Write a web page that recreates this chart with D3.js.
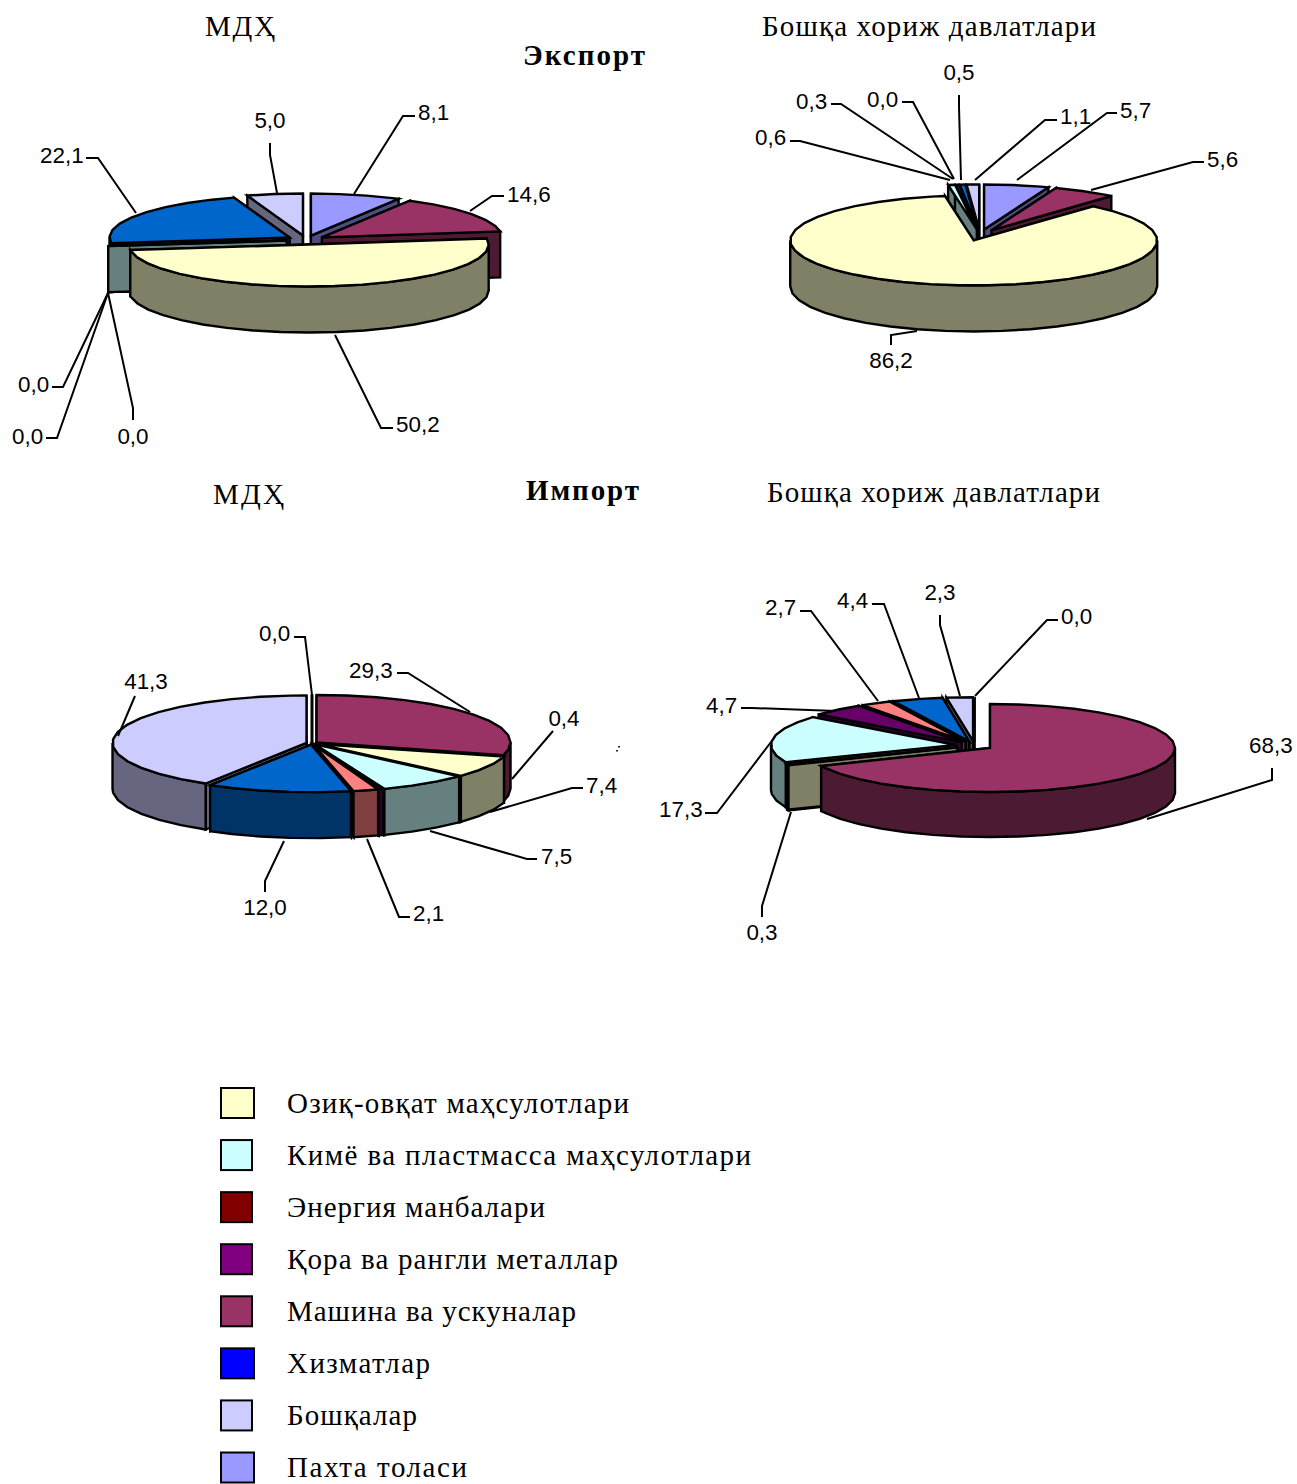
<!DOCTYPE html>
<html>
<head>
<meta charset="utf-8">
<script src="https://d3js.org/d3.v7.min.js"></script>
<style>
  body { margin: 0; background: #fff; }
  .lbl { font-family: "Liberation Sans", Arial, sans-serif; font-size: 22.4px; fill: #000; }
  .ttl { font-family: "Liberation Serif", "Times New Roman", serif; font-size: 29px; fill: #000; }
  .ttlb { font-family: "Liberation Serif", "Times New Roman", serif; font-size: 29px; font-weight: bold; fill: #000; }
  .leg { font-family: "Liberation Serif", "Times New Roman", serif; font-size: 29px; fill: #000; }
</style>
</head>
<body>
<div id="chart"></div>
<script>
// values, same slice order in the four pies
const exportCis = [8.1, 14.6, 50.2, 0.0, 0.0, 0.0, 22.1, 5.0];
const exportOther = [5.7, 5.6, 86.2, 0.6, 0.3, 0.0, 0.5, 1.1];
const importCis = [0.0, 29.3, 7.4, 7.5, 0.4, 2.1, 12.0, 41.3];
const importOther = [0.0, 68.3, 0.3, 17.3, 4.7, 2.7, 4.4, 2.3];

const sliceColors = ["#9999FF", "#993366", "#FFFFCC", "#CCFFFF", "#660066", "#FF8080", "#0066CC", "#CCCCFF"];

const legendNames = ["Озиқ-овқат маҳсулотлари", "Кимё ва пластмасса маҳсулотлари", "Энергия манбалари",
  "Қора ва рангли металлар", "Машина ва ускуналар", "Хизматлар", "Бошқалар", "Пахта толаси"];
const legendColors = ["#FFFFCC", "#CCFFFF", "#800000", "#800080", "#993366", "#0000FF", "#CCCCFF", "#9999FF"];
const legendWidths = [342, 464, 258, 331, 289, 143, 130, 180];

// text, x, baseline, class, width
const titles = [
  ["МДҲ", 205, 36, "ttl", 70],
  ["Бошқа хориж давлатлари", 762, 36, "ttl", 334],
  ["Экспорт", 523, 65, "ttlb", 122],
  ["МДҲ", 213, 504, "ttl", 71],
  ["Импорт", 526, 500, "ttlb", 113],
  ["Бошқа хориж давлатлари", 767, 502, "ttl", 333]
];

// pie geometry: centre, radii, wall height, explosion in px
const pieLayouts = [
  { values: exportCis, cx: 306, cy: 240, rx: 180, ry: 42, depth: 46, e: 19.5 },
  { values: exportOther, cx: 980, cy: 235, rx: 183.5, ry: 45, depth: 46, e: 23 },
  { values: importCis, cx: 312, cy: 743.3, rx: 194, ry: 47.5, depth: 46, e: 5.7, clip: 617 },
  { values: importOther, cx: 974.4, cy: 745.6, rx: 185, ry: 44, depth: 45, e: 18.6 }
];

// label placement per slice: x, y centre, anchor, leader points
const exportCisLeaders = [
  [418, 113, "start", [[415, 116], [403, 116], [354, 194]]],
  [507, 195, "start", [[504, 196], [492, 196], [470, 211]]],
  [396, 425, "start", [[393, 428], [381, 428], [335, 335]]],
  [18, 385, "start", [[52, 387], [63, 387], [108, 293]]],
  [12, 437, "start", [[46, 438], [57, 438], [108, 293]]],
  [133, 437, "middle", [[133, 420], [133, 408], [108, 293]]],
  [40, 156, "start", [[86, 158], [98, 158], [136, 213]]],
  [270, 121, "middle", [[270, 143], [270, 155], [277, 193]]]
];
const exportOtherLeaders = [
  [1120, 111, "start", [[1117, 113], [1107, 113], [1017, 180]]],
  [1207, 160, "start", [[1204, 162], [1193, 162], [1091, 190]]],
  [891, 361, "middle", [[891, 345], [891, 335], [917, 331]]],
  [755, 138, "start", [[790, 141], [800, 141], [950, 180]]],
  [796, 102, "start", [[831, 104], [841, 104], [953, 179]]],
  [867, 100, "start", [[902, 102], [913, 102], [954, 179]]],
  [959, 73, "middle", [[959, 95], [959, 107], [961, 180]]],
  [1060, 117, "start", [[1057, 120], [1045, 120], [975, 180]]]
];
const importCisLeaders = [
  [259, 634, "start", [[294, 637], [305, 637], [312, 695]]],
  [349, 671, "start", [[397, 673], [408, 673], [470, 712]]],
  [586, 786, "start", [[583, 788], [572, 788], [490, 812]]],
  [541, 857, "start", [[537, 859], [527, 859], [430, 831]]],
  [564, 719, "middle", [[553, 731], [512, 779]]],
  [413, 914, "start", [[410, 917], [399, 917], [367, 839]]],
  [265, 908, "middle", [[265, 892], [265, 881], [284, 841]]],
  [146, 682, "middle", [[135, 696], [118, 736]]]
];
const importOtherLeaders = [
  [1061, 617, "start", [[1058, 620], [1047, 620], [975, 696]]],
  [1249, 746, "start", [[1272, 768], [1272, 780], [1147, 819]]],
  [762, 933, "middle", [[762, 917], [762, 906], [791, 812]]],
  [659, 810, "start", [[705, 813], [717, 813], [771, 742]]],
  [706, 706, "start", [[741, 708], [752, 708], [836, 711]]],
  [765, 608, "start", [[800, 611], [811, 611], [878, 701]]],
  [837, 601, "start", [[872, 604], [884, 604], [919, 698]]],
  [940, 593, "middle", [[940, 615], [940, 625], [960, 696]]]
];
const allLeaders = [exportCisLeaders, exportOtherLeaders, importCisLeaders, importOtherLeaders];

const svg = d3.select("#chart").append("svg")
  .attr("width", 1297)
  .attr("height", 1484)
  .style("display", "block");

const pie = d3.pie().sort(null).value(d => d);
const line = d3.line();
const comma = v => d3.format(".1f")(v).replace(".", ",");
const STEP = Math.PI / 20; // coarse on purpose, the rims in the original are faceted

function rimAngles(a0, a1) {
  const out = d3.range(a0, a1, STEP);
  out.push(a1);
  return out;
}

pieLayouts.forEach((p, n) => {
  const g = svg.append("g");
  if (p.clip) {
    svg.append("clipPath").attr("id", "clip" + n).append("rect")
      .attr("x", 0).attr("y", 0).attr("width", p.clip).attr("height", 1484);
    g.attr("clip-path", "url(#clip" + n + ")");
  }

  const sx = d3.scaleLinear().domain([-1, 1]).range([p.cx - p.rx, p.cx + p.rx]);
  const sy = d3.scaleLinear().domain([-1, 1]).range([p.cy + p.ry, p.cy - p.ry]);
  const vert = p.ry / p.rx;

  const slices = pie(p.values).map((s, i) => {
    const mid = (s.startAngle + s.endAngle) / 2;
    return {
      i: i, a0: s.startAngle, a1: s.endAngle, mid: mid,
      dx: p.e * Math.sin(mid),
      dy: -p.e * vert * Math.cos(mid),
      back: Math.abs(mid - Math.PI)
    };
  });

  // painter order, back of the pie first
  slices.sort((a, b) => d3.descending(a.back, b.back) || d3.descending(a.i, b.i));

  slices.forEach(s => {
    const col = sliceColors[s.i];
    const base = d3.rgb(col);
    const wall = d3.rgb(base.r / 2, base.g / 2, base.b / 2).formatHex();
    const c = [sx(0) + s.dx, sy(0) + s.dy];
    const rim = a => [sx(Math.sin(a)) + s.dx, sy(Math.cos(a)) + s.dy];
    const down = q => [q[0], q[1] + p.depth];

    const sg = g.append("g")
      .attr("fill", col)
      .attr("stroke", "#000")
      .attr("stroke-width", 2.4)
      .attr("stroke-linejoin", "miter");

    // cut faces
    [s.a0, s.a1].forEach(a => {
      sg.append("path")
        .attr("d", line([c, rim(a), down(rim(a)), down(c)]) + "Z")
        .attr("fill", wall);
    });

    // outer wall only on the front half
    const from = Math.max(s.a0, Math.PI / 2);
    const to = Math.min(s.a1, Math.PI * 1.5);
    if (to > from) {
      const pts = rimAngles(from, to).map(rim);
      sg.append("path")
        .attr("d", line(pts.concat(pts.map(down).reverse())) + "Z")
        .attr("fill", wall);
    }

    // top
    sg.append("path")
      .attr("d", line([c].concat(rimAngles(s.a0, s.a1).map(rim))) + "Z");
  });

  // leaders and value labels
  p.values.forEach((v, i) => {
    const l = allLeaders[n][i];
    g.append("path")
      .attr("d", line(l[3]))
      .attr("fill", "none")
      .attr("stroke", "#000")
      .attr("stroke-width", 2);
    g.append("text")
      .attr("class", "lbl")
      .attr("x", l[0])
      .attr("y", l[1] + 7)
      .attr("text-anchor", l[2])
      .text(comma(v));
  });
});

// the little speck right of the clipped label
svg.append("rect").attr("x", 618).attr("y", 746).attr("width", 2).attr("height", 1.5).attr("fill", "#222");
svg.append("rect").attr("x", 616).attr("y", 750).attr("width", 2).attr("height", 1.5).attr("fill", "#222");

titles.forEach(t => {
  svg.append("text")
    .attr("class", t[3])
    .attr("x", t[1])
    .attr("y", t[2])
    .attr("textLength", t[4])
    .attr("lengthAdjust", "spacing")
    .text(t[0]);
});

// legend
const rowY = d3.scaleLinear().domain([0, 7]).range([1103, 1467.5]);
legendNames.forEach((name, i) => {
  svg.append("rect")
    .attr("x", 221)
    .attr("y", rowY(i) - 15)
    .attr("width", i === 0 || i === 5 || i === 7 ? 33 : 31)
    .attr("height", 30)
    .attr("fill", legendColors[i])
    .attr("stroke", "#000")
    .attr("stroke-width", 2);
  svg.append("text")
    .attr("class", "leg")
    .attr("x", 287)
    .attr("y", rowY(i) + 9.5)
    .attr("textLength", legendWidths[i])
    .attr("lengthAdjust", "spacing")
    .text(name);
});
</script>
</body>
</html>
